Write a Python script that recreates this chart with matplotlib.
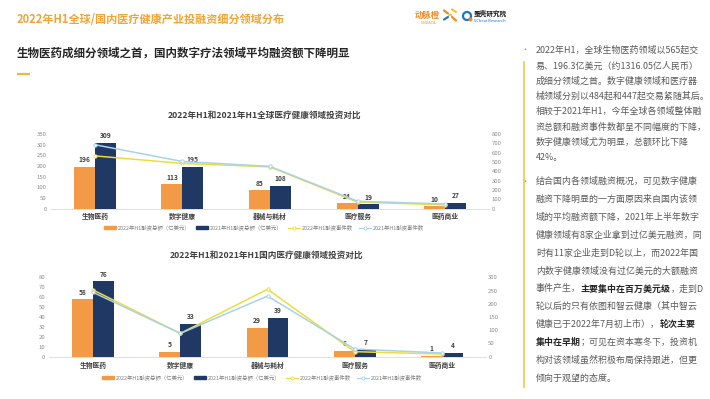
import numpy as np
import matplotlib
matplotlib.use("Agg")
import matplotlib.pyplot as plt
from matplotlib.patches import Circle, Patch
from matplotlib.lines import Line2D

plt.rcParams['font.family'] = ['Noto Sans CJK SC', 'DejaVu Sans']

# ---------------- data ----------------
categories = ["生物医药", "数字健康", "器械与耗材", "医疗服务", "医药商业"]

global_amount_2022 = [196, 113, 85, 24, 10]
global_amount_2021 = [309, 195, 108, 19, 27]
global_events_2022 = [565, 484, 447, 68, 40]
global_events_2021 = [685, 505, 452, 78, 48]

domestic_amount_2022 = [58, 5, 29, 6, 1]
domestic_amount_2021 = [76, 33, 39, 7, 4]
domestic_events_2022 = [252, 88, 255, 19, 10]
domestic_events_2021 = [243, 88, 229, 29, 14]

legend_labels = ["2022年H1融资总额（亿美元）", "2021年H1融资总额（亿美元）",
                 "2022年H1融资事件数", "2021年H1融资事件数"]

title_main = "2022年H1全球/国内医疗健康产业投融资细分领域分布"
title_sub = "生物医药成细分领域之首，国内数字疗法领域平均融资额下降明显"
chart1_title = "2022年H1和2021年H1全球医疗健康领域投资对比"
chart2_title = "2022年H1和2021年H1国内医疗健康领域投资对比"

para1 = ["2022年H1，全球生物医药领域以565起交",
         "易、196.3亿美元（约1316.05亿人民币）",
         "成细分领域之首。数字健康领域和医疗器",
         "械领域分别以484起和447起交易紧随其后。",
         "相较于2021年H1，今年全球各领域整体融",
         "资总额和融资事件数都呈不同幅度的下降，",
         "数字健康领域尤为明显，总额环比下降",
         "42%。"]
para2 = [[("结合国内各领域融资概况，可见数字健康", False)],
         [("融资下降明显的一方面原因来自国内该领", False)],
         [("域的平均融资额下降，2021年上半年数字", False)],
         [("健康领域有8家企业拿到过亿美元融资，同", False)],
         [("时有11家企业走到D轮以上，而2022年国", False)],
         [("内数字健康领域没有过亿美元的大额融资", False)],
         [("事件产生，", False), ("主要集中在百万美元级", True), ("，走到D", False)],
         [("轮以后的只有依图和智云健康（其中智云", False)],
         [("健康已于2022年7月初上市），", False), ("轮次主要", True)],
         [("集中在早期", True), ("；可见在资本寒冬下，投资机", False)],
         [("构对该领域虽然积极布局保持跟进，但更", False)],
         [("倾向于观望的态度。", False)]]

# ---------------- style ----------------
C_ORANGE = "#F39A47"
C_NAVY = "#1F3864"
C_YELLOW = "#EEDC3A"
C_BLUE = "#A8D2E6"
C_TEXT = "#404040"
C_TICK = "#8C8C8C"

W, H = 710, 399
fig = plt.figure(figsize=(W / 100, H / 100), dpi=100)
fig.patch.set_facecolor("white")

canvas = fig.add_axes([0, 0, 1, 1])
canvas.set_xlim(0, W)
canvas.set_ylim(H, 0)
canvas.axis("off")
canvas.set_zorder(0)


def px_axes(left, right, top, bottom):
    return [left / W, 1 - bottom / H, (right - left) / W, (bottom - top) / H]


def draw_chart(rect, a22, a21, e22, e21, ymax_l, step_l, ymax_r, step_r, cat_pad):
    ax = fig.add_axes(rect)
    ax.set_facecolor("none")
    x = np.arange(len(categories))
    w = 0.24
    ax.bar(x - w / 2, a22, width=w, color=C_ORANGE, zorder=2)
    ax.bar(x + w / 2, a21, width=w, color=C_NAVY, zorder=2)
    for xi, v in zip(x - w / 2, a22):
        ax.annotate(str(v), (xi, v), xytext=(0, 2.6), textcoords="offset points",
                    ha="center", va="bottom", fontsize=4.8, fontweight="bold", color=C_TEXT)
    for xi, v in zip(x + w / 2, a21):
        ax.annotate(str(v), (xi, v), xytext=(0, 2.6), textcoords="offset points",
                    ha="center", va="bottom", fontsize=4.8, fontweight="bold", color=C_TEXT)
    ax.set_xlim(-0.5, len(categories) - 0.5)
    ax.set_ylim(0, ymax_l)
    ax.set_yticks(np.arange(0, ymax_l + 1, step_l))
    ax.set_xticks(x)
    ax.set_xticklabels(categories, fontsize=4.9, fontweight="bold", color=C_TEXT)
    ax.tick_params(axis="x", length=0, pad=cat_pad)
    ax.tick_params(axis="y", length=0, pad=3, labelsize=4.3, labelcolor=C_TICK)
    for s in ["top", "left", "right"]:
        ax.spines[s].set_visible(False)
    ax.spines["bottom"].set_color("#D9D9D9")
    ax.spines["bottom"].set_linewidth(0.6)

    axr = ax.twinx()
    axr.set_ylim(0, ymax_r)
    axr.set_yticks(np.arange(0, ymax_r + 1, step_r))
    axr.tick_params(axis="y", length=0, pad=2, labelsize=4.3, labelcolor=C_TICK)
    for s in axr.spines.values():
        s.set_visible(False)
    axr.plot(x, e22, color=C_YELLOW, lw=1.1, marker="o", ms=2.4, mfc="white",
             mec=C_YELLOW, mew=0.7, zorder=3)
    axr.plot(x, e21, color=C_BLUE, lw=1.1, marker="o", ms=2.4, mfc="white",
             mec=C_BLUE, mew=0.7, zorder=3)
    return ax


def chart_legend(cx, cy):
    handles = [Patch(color=C_ORANGE), Patch(color=C_NAVY),
               Line2D([], [], color=C_YELLOW, lw=0.9, marker="o", ms=2.2, mfc="white", mec=C_YELLOW, mew=0.6),
               Line2D([], [], color=C_BLUE, lw=0.9, marker="o", ms=2.2, mfc="white", mec=C_BLUE, mew=0.6)]
    fig.legend(handles, legend_labels, loc="center", bbox_to_anchor=(cx / W, 1 - cy / H),
               ncol=4, frameon=False, fontsize=3.9, labelcolor="#7F7F7F",
               handlelength=2.2, handleheight=0.5, handletextpad=0.4, columnspacing=1.0,
               borderpad=0)


draw_chart(px_axes(51, 489, 134, 208.5), global_amount_2022, global_amount_2021,
           global_events_2022, global_events_2021, 350, 50, 800, 100, 3.0)
chart_legend(264, 227.5)
canvas.text(265, 115, chart1_title, ha="center", va="center", fontsize=6.2,
            fontweight="bold", color=C_TEXT)

draw_chart(px_axes(49.5, 485.5, 277.3, 356.7), domestic_amount_2022, domestic_amount_2021,
           domestic_events_2022, domestic_events_2021, 80, 10, 300, 50, 3.6)
chart_legend(262, 377.5)
canvas.text(267, 255, chart2_title, ha="center", va="center", fontsize=6.2,
            fontweight="bold", color=C_TEXT)

# ---------------- header ----------------
canvas.text(17, 19.5, title_main, ha="left", va="center", fontsize=8.0,
            fontweight="bold", color="#F0A431")
canvas.text(17, 53, title_sub, ha="left", va="center", fontsize=8.3,
            fontweight="bold", color="#262626")
canvas.plot([17, 30], [74, 74], color="#F5B342", lw=1.6, solid_capstyle="butt")

# logos
canvas.text(415, 15, "动脉橙", ha="left", va="center", fontsize=6.0,
            fontweight="bold", color="#F08C1E")
canvas.text(428, 23.5, "VBDATA", ha="center", va="center", fontsize=2.8, color="#F08C1E")
for (x0, y0, x1, y1, c) in [(444, 10.5, 448, 13.5, "#F08C1E"), (452, 9.5, 456, 12, "#F5C342"),
                            (444, 19.5, 448, 17, "#2E75B6"), (452, 17, 456, 20.5, "#F08C1E"),
                            (449, 15, 451, 15, "#F5C342")]:
    canvas.plot([x0, x1], [y0, y1], color=c, lw=1.6, solid_capstyle="round")
canvas.add_patch(Circle((467, 16), 4.0, fill=False, ec="#1E73BE", lw=1.6))
canvas.add_patch(Circle((470.5, 19.5), 1.3, color="#F08C1E"))
canvas.text(474, 13.5, "蛋壳研究院", ha="left", va="center", fontsize=4.8,
            fontweight="bold", color="#1A1A1A")
canvas.text(474, 21.5, "VCbeat Research", ha="left", va="center", fontsize=2.9, color="#1E73BE")

# ---------------- right panel ----------------
canvas.plot([523.5, 523.5], [62, 387], color="#F5C342", lw=1.2)
canvas.text(524.5, 50.5, "•", ha="center", va="center", fontsize=5, color="#7F7F7F")
canvas.text(524.5, 181.5, "•", ha="center", va="center", fontsize=5, color="#7F7F7F")

TX = 536
FS = 6.45
renderer = fig.canvas.get_renderer()

for i, line in enumerate(para1):
    canvas.text(TX, 50.5 + i * 15.3, line, ha="left", va="center", fontsize=FS, color="#595959")

for i, segs in enumerate(para2):
    y = 181.5 + i * 17.9
    x = TX
    for s, bold in segs:
        t = canvas.text(x, y, s, ha="left", va="center", fontsize=FS,
                        fontweight="bold" if bold else "normal",
                        color="#262626" if bold else "#595959")
        bb = t.get_window_extent(renderer)
        x += bb.width

fig.savefig("out.png", dpi=100, facecolor="white")
